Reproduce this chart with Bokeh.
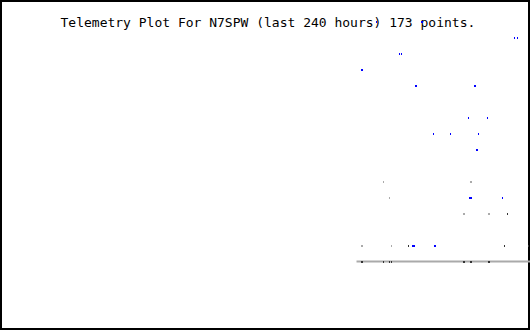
from bokeh.plotting import figure
from bokeh.models import Range1d, Label, ColumnDataSource
from bokeh.embed import file_html
from bokeh.resources import INLINE

title_text = "Telemetry Plot For N7SPW (last 240 hours) 173 points."

# hours relative to now, and quantized telemetry level
blue_hours = [-69.96, -49.58, -49.13, -59.55, -58.64, -7.47, -6.11,
              -76.75, -76.30, -52.30, -51.85, -25.58, -25.13,
              -28.30, -19.70, -44.15, -36.45, -23.77, -24.68, -24.23,
              -27.85, -27.40, -26.94, -12.91,
              -53.66, -53.21, -52.75, -43.70, -43.25]
blue_levels = [15, 15, 15, 13, 13, 14, 14,
               12, 12, 11, 11, 11, 11,
               9, 9, 8, 8, 8, 7, 7,
               4, 4, 4, 4,
               1, 1, 1, 1, 1]

grey_hours = [-66.79, -27.40, -26.94, -64.08, -30.57, -30.11, -19.25, -18.79,
              -76.75, -76.30, -63.17]
grey_levels = [5, 5, 5, 4, 3, 3, 3, 3, 1, 1, 1]

dark_hours = [-10.64, -55.47, -12.00, -1.13,
              -76.75, -76.30, -66.79, -64.08, -63.17,
              -30.57, -30.11, -27.40, -26.94, -19.25, -18.79]
dark_levels = [3, 1, 1, 1,
               0, 0, 0, 0, 0,
               0, 0, 0, 0, 0, 0]

base_hours = [-78.79, 0.0]
base_levels = [0, 0]

p = figure(width=530, height=330, output_backend="svg", toolbar_location=None,
           x_axis_location=None, y_axis_location=None, min_border=0,
           x_range=Range1d(-240, 0), y_range=Range1d(-4.3125, 16.3125))
# half-pixel aligned ranges so that 1px marks render crisp
p.extra_x_ranges = {"pts": Range1d(-240 - 0.2264, -0.2264)}
p.extra_y_ranges = {"pts": Range1d(-4.3125 + 1 / 32, 16.3125 + 1 / 32)}
p.grid.visible = False
p.background_fill_color = "white"
p.border_fill_color = "white"
p.outline_line_color = "black"
p.outline_line_width = 3

p.add_layout(Label(x=60, y=308, x_units="screen", y_units="screen",
                   text=title_text, text_font="DejaVu Sans Mono",
                   text_font_size="13px", text_color="black",
                   text_baseline="alphabetic", text_align="left",
                   level="underlay"))

p.line(base_hours, base_levels, line_color="#aaaaaa", line_width=2)

for hrs, lv, col in [(grey_hours, grey_levels, "#aaaaaa"),
                     (blue_hours, blue_levels, "#0000ff"),
                     (dark_hours, dark_levels, "#333333")]:
    src = ColumnDataSource(dict(x=hrs, y=lv))
    p.rect(x="x", y="y", width=1, height=2, width_units="screen",
           height_units="screen", source=src, fill_color=col, line_color=None,
           x_range_name="pts", y_range_name="pts")

open("out.html", "w").write(file_html(p, INLINE))
